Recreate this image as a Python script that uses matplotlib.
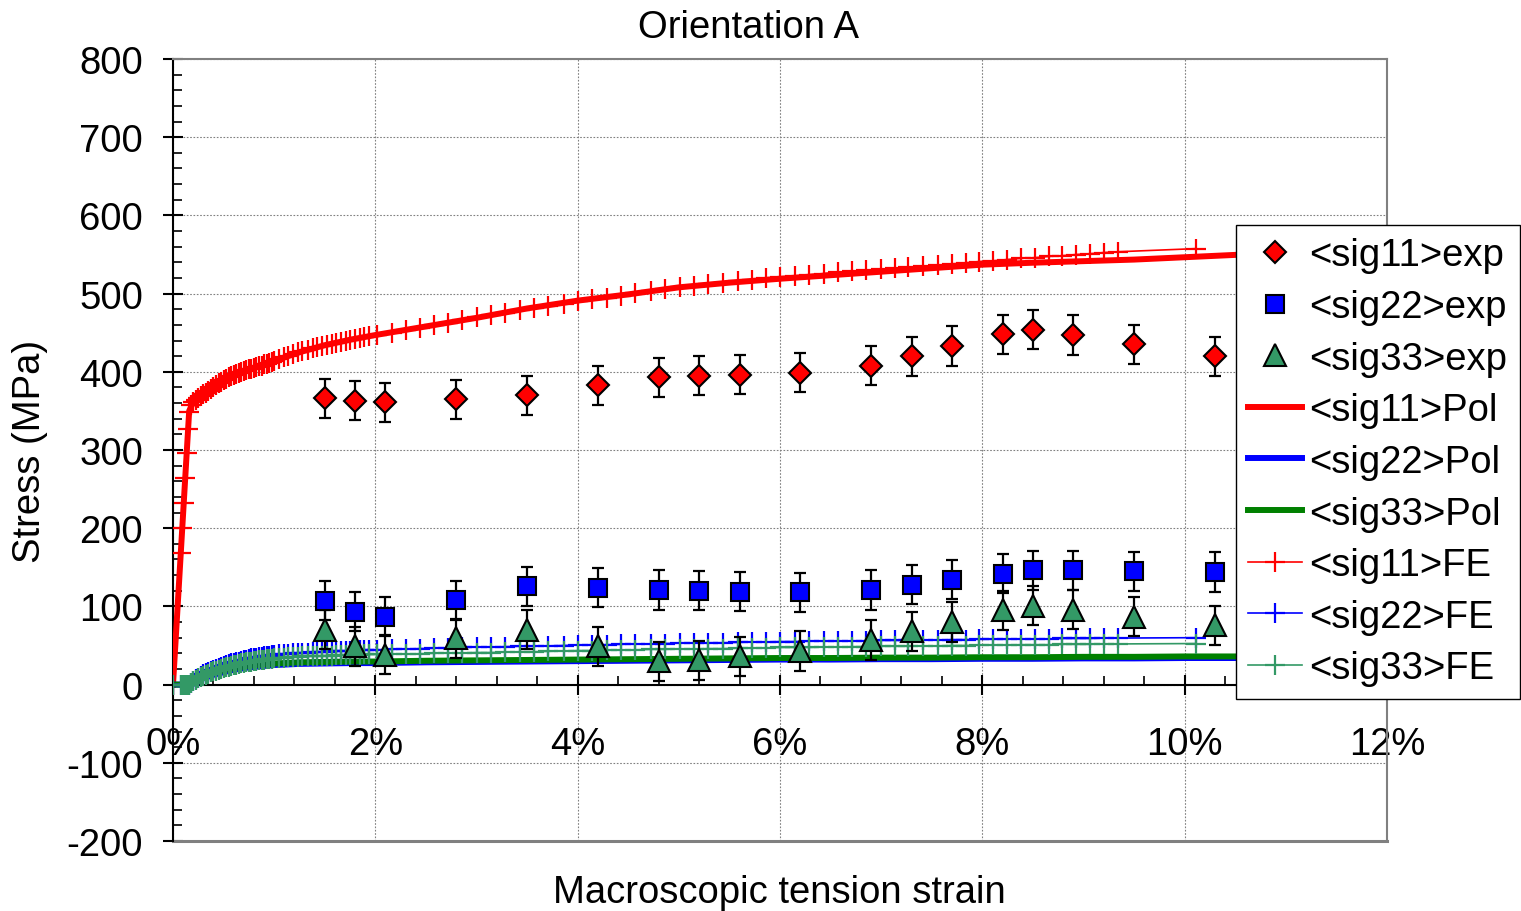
import matplotlib
matplotlib.use('agg')
import matplotlib.pyplot as plt
from matplotlib.ticker import MultipleLocator, FuncFormatter

plt.rcParams['font.family'] = ['Liberation Sans', 'DejaVu Sans']
plt.rcParams['font.size'] = 27.5
plt.rcParams['axes.unicode_minus'] = False

# ---- experimental points (strain in %, stress in MPa) ----
exp_strain = [1.5, 1.8, 2.1, 2.8, 3.5, 4.2, 4.8, 5.2, 5.6, 6.2, 6.9, 7.3, 7.7, 8.2, 8.5, 8.9, 9.5, 10.3]
sig11_exp = [366, 363, 361, 365, 370, 383, 393, 395, 396, 399, 408, 420, 433, 448, 454, 447, 435, 420]
sig22_exp = [107, 93, 87, 108, 126, 124, 121, 120, 119, 118, 121, 128, 134, 142, 146, 146, 145, 144]
sig33_exp = [70, 49, 38, 59, 70, 49, 30, 31, 36, 43, 57, 68, 80, 95, 101, 96, 87, 76]
exp_err = 25

# ---- polycrystal model ----
pol_strain = [0, 0.16, 0.2, 0.3, 0.4, 0.5, 0.6, 0.75, 1.0, 1.25, 1.5, 1.75, 2.0, 2.5, 3.0, 3.5,
              4.0, 4.5, 5.0, 5.5, 6.0, 6.5, 7.0, 7.5, 8.0, 8.5, 9.0, 9.5, 10.0, 10.5, 11.0]
sig11_pol = [0, 350, 361, 371, 381, 389.5, 396, 403, 414, 425, 434, 441, 447, 458, 469, 481,
             491, 499, 508, 514, 519, 523.5, 528, 532.5, 537, 539.5, 541.5, 543.5, 546.5, 549.5, 552]
sig22_pol = [0, 0, 2, 8, 12.5, 16, 19, 22, 25, 26.5, 27, 27.5, 27.5, 28.5, 29, 29.5,
             30, 30.5, 31, 31.5, 32, 32, 32.5, 32.5, 33, 33, 33.5, 33.5, 34, 34, 34.5]
sig33_pol = [0, 0, 3, 10, 14.5, 18, 21, 24, 27, 28.5, 29, 29.5, 29.5, 30.5, 31, 31.5,
             32, 32.5, 33, 33.5, 34, 34, 34.5, 34.5, 35, 35, 35.5, 35.5, 36, 36, 36.5]

# ---- finite element results ----
fe_strain = [0, 0.078, 0.093, 0.108, 0.123, 0.138, 0.152, 0.163,
             0.175, 0.2, 0.225, 0.25, 0.275, 0.3, 0.325, 0.35, 0.375, 0.4, 0.425, 0.45,
             0.475, 0.5, 0.525, 0.55, 0.575, 0.6, 0.625, 0.65, 0.675, 0.7, 0.725, 0.75,
             0.775, 0.8, 0.825, 0.85, 0.875, 0.9, 0.925, 0.95, 0.975, 1.0,
             1.05, 1.1, 1.14, 1.19, 1.24, 1.28, 1.33, 1.38, 1.42, 1.47,
             1.52, 1.57, 1.61, 1.66, 1.71, 1.75, 1.8, 1.85, 1.89, 1.94,
             2.02, 2.16, 2.3, 2.44, 2.58, 2.72, 2.86, 3.0, 3.14, 3.28,
             3.43, 3.57, 3.71, 3.86, 4.0, 4.14, 4.29, 4.43, 4.57, 4.72,
             4.86, 5.01, 5.15, 5.29, 5.44, 5.58, 5.72, 5.86, 6.0, 6.15,
             6.29, 6.43, 6.57, 6.71, 6.85, 7.0, 7.14, 7.27, 7.41, 7.56,
             7.7, 7.84, 7.97, 8.11, 8.24, 8.38, 8.52, 8.66, 8.79, 8.93,
             9.06, 9.2, 9.34, 10.11]
sig11_fe = [0, 168, 200, 232, 264, 296, 327, 349,
            357, 361, 364, 367, 369, 371, 373.5, 376, 378.5, 381, 383, 385.5,
            387.5, 389.5, 391, 393, 394.5, 396, 397.5, 399, 400, 401, 402, 403,
            404, 405, 406, 407, 408, 409.5, 410.5, 411.5, 413, 414,
            416, 418.5, 420.5, 422.5, 425, 426.5, 428.5, 430, 431.5, 433,
            434.5, 436, 437, 438.5, 440, 441, 442.5, 443.5, 444.5, 446,
            447, 450, 453.5, 456.5, 460, 463, 466.5, 469.5, 472.5, 475.5,
            478.5, 481.5, 484.5, 487, 490, 492.5, 495, 497.5, 500.5, 503,
            505.5, 508, 510, 512, 514, 516, 517.5, 519.5, 521, 522.5,
            524, 525.5, 527, 528.5, 530, 531, 532.5, 534, 535, 536.5,
            538, 539.5, 541, 542, 543.5, 545, 546, 547.5, 548.5, 550,
            551, 552.5, 553.5, 557.5]
sig22_fe = [0, 0, 0, 0, 0, 0, 0, 0,
            2, 4.5, 7, 9, 11, 13, 14.5, 16, 17.5, 19, 20.5, 21.5,
            23, 24, 25, 26, 27, 28, 29, 29.5, 30.5, 31, 32, 32.5,
            33.5, 34, 34.5, 35, 35.5, 36, 36.5, 37, 37.5, 38,
            38.5, 39, 39.5, 40, 40.5, 40.5, 41, 41.5, 41.5, 42,
            42, 42.5, 42.5, 43, 43, 43.5, 43.5, 44, 44, 44.5,
            44.5, 45, 45.5, 46, 46.5, 47, 47.5, 48, 48, 48.5,
            49, 49, 49.5, 50, 50.5, 51, 51, 51.5, 52, 52,
            52.5, 53, 53, 53.5, 53.5, 54, 54.5, 54.5, 55, 55,
            55.5, 55.5, 55.5, 56, 56, 56.5, 56.5, 56.5, 57, 57,
            57.5, 57.5, 58, 58, 58, 58.5, 58.5, 58.5, 59, 59,
            59, 59.5, 59.5, 60]
sig33_fe = [0, 0, 0, 0, 0, 0, 0, 0,
            1.5, 4, 6, 8, 9.5, 11, 12.5, 14, 15.5, 17, 18, 19,
            20, 21, 22, 23, 24, 25, 25.5, 26.5, 27, 28, 28.5, 29,
            29.5, 30, 30.5, 31, 31.5, 32, 32.5, 33, 33, 33.5,
            34, 34.5, 35, 35.5, 35.5, 36, 36, 36.5, 36.5, 37,
            37, 37, 37.5, 37.5, 37.5, 38, 38, 38, 38.5, 38.5,
            38.5, 39, 39, 39.5, 40, 40.5, 40.5, 41, 41, 41.5,
            42, 42, 42.5, 43, 43.5, 43.5, 44, 44, 44.5, 45,
            45, 45.5, 45.5, 46, 46, 46.5, 46.5, 47, 47.5, 47.5,
            47.5, 48, 48, 48.5, 48.5, 49, 49, 49, 49.5, 49.5,
            50, 50, 50.5, 50.5, 50.5, 51, 51, 51, 51.5, 51.5,
            51.5, 52, 52, 52.5]

RED = '#FF0000'
BLUE = '#0000FF'
GREEN = '#008000'
SEA = '#339966'
GRAY = '#808080'

W, H = 1521, 912
fig = plt.figure(figsize=(W / 100, H / 100), dpi=100)
ax = fig.add_axes([173 / W, (H - 842) / H, (1387 - 173) / W, (842 - 60) / H])

# polycrystal model (thick lines)
h_p11, = ax.plot(pol_strain, sig11_pol, color=RED, lw=4.3, label='<sig11>Pol', zorder=3)
h_p22, = ax.plot(pol_strain, sig22_pol, color=BLUE, lw=4.3, label='<sig22>Pol', zorder=3)
h_p33, = ax.plot(pol_strain, sig33_pol, color=GREEN, lw=4.3, label='<sig33>Pol', zorder=3)

# FE curves (thin line with + markers), drawn over the model lines
fe_kw = dict(marker='+', markersize=14, markeredgewidth=1.6, linewidth=1.2, zorder=3.5)
h_fe11, = ax.plot(fe_strain, sig11_fe, color=RED, label='<sig11>FE', **fe_kw)
h_fe22, = ax.plot(fe_strain, sig22_fe, color=BLUE, label='<sig22>FE', **fe_kw)
h_fe33, = ax.plot(fe_strain, sig33_fe, color=SEA, label='<sig33>FE', **fe_kw)

# experiments with error bars
for ys in (sig11_exp, sig22_exp, sig33_exp):
    ax.errorbar(exp_strain, ys, yerr=exp_err, fmt='none', ecolor='black',
                elinewidth=1.6, capsize=4, capthick=1.6, zorder=4)
mk = dict(linestyle='none', markeredgecolor='black', markeredgewidth=1.5, zorder=5)
h_e11, = ax.plot(exp_strain, sig11_exp, marker='D', markersize=11.5, color=RED, label='<sig11>exp', **mk)
h_e22, = ax.plot(exp_strain, sig22_exp, marker='s', markersize=12.5, color=BLUE, label='<sig22>exp', **mk)
h_e33, = ax.plot(exp_strain, sig33_exp, marker='^', markersize=15.5, color=SEA, label='<sig33>exp', **mk)

ax.set_xlim(0, 12)
ax.set_ylim(-200, 800)

ax.xaxis.set_major_locator(MultipleLocator(2))
ax.xaxis.set_minor_locator(MultipleLocator(0.4))
ax.yaxis.set_major_locator(MultipleLocator(100))
ax.yaxis.set_minor_locator(MultipleLocator(20))
ax.xaxis.set_major_formatter(FuncFormatter(lambda v, p: '%d%%' % round(v)))

ax.spines['bottom'].set_position(('data', 0))
for s in ('left', 'bottom'):
    ax.spines[s].set_color('black')
    ax.spines[s].set_linewidth(1.5)
for s in ('top', 'right'):
    ax.spines[s].set_color(GRAY)
    ax.spines[s].set_linewidth(1.5)
ax.axhline(-200, color=GRAY, lw=2.2, clip_on=False, zorder=1)

ax.tick_params(axis='x', which='major', direction='inout', length=15, width=1.5, pad=22.5)
ax.tick_params(axis='y', which='major', direction='inout', length=15, width=1.5, pad=14)
ax.tick_params(which='minor', direction='in', length=6.5, width=1.2)
ax.grid(True, which='major', color=GRAY, linestyle=(0, (1.5, 1.5)), linewidth=0.8)
ax.set_axisbelow(True)

fig.text(748.5 / W, 1 - 38.5 / H, 'Orientation A', ha='center', va='baseline')
fig.text(779.5 / W, 1 - 903 / H, 'Macroscopic tension strain', ha='center', va='baseline')
fig.text(30 / W, 1 - 451 / H, 'Stress (MPa)', ha='center', va='center', rotation=90)

handles = [h_e11, h_e22, h_e33, h_p11, h_p22, h_p33, h_fe11, h_fe22, h_fe33]
leg = ax.legend(handles=handles, loc='upper left', bbox_to_anchor=(1236 / W, 1 - 226 / H),
                bbox_transform=fig.transFigure, borderaxespad=0, frameon=True, fancybox=False,
                framealpha=1, edgecolor='black', handlelength=1.4, handletextpad=0.2,
                labelspacing=0.41, borderpad=0.32, numpoints=1)
leg.get_frame().set_linewidth(1.0)
leg.set_zorder(10)

fig.savefig('out.png', dpi=100)
